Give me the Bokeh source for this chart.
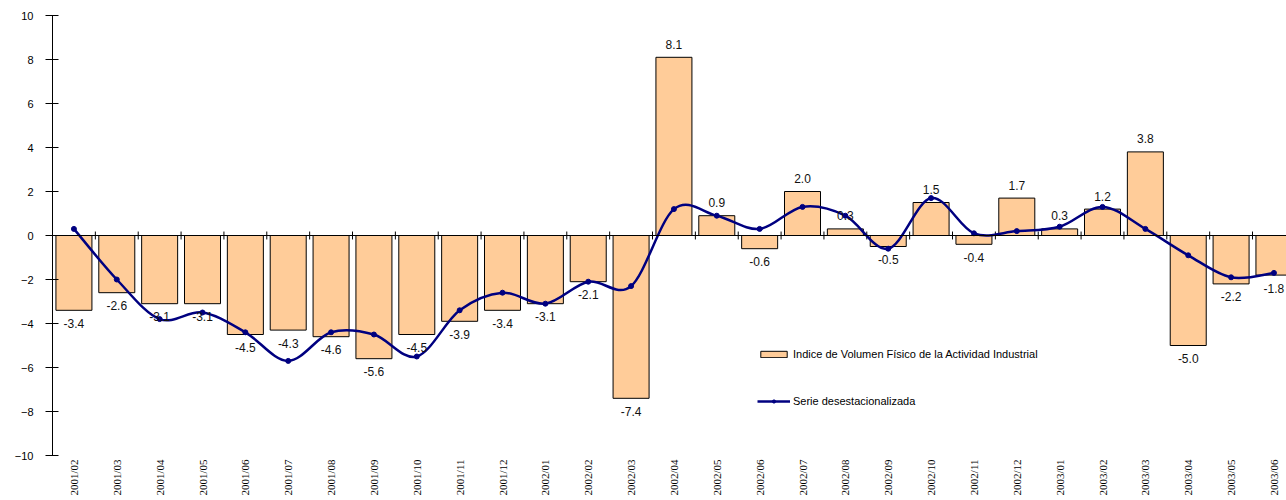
import math
from bokeh.plotting import figure
from bokeh.models import (ColumnDataSource, FixedTicker, Legend, LinearAxis,
                          LegendItem, LabelSet, Range1d, Span)
from bokeh.core.properties import value
from bokeh.embed import file_html
from bokeh.resources import INLINE

categories = ["2001/02", "2001/03", "2001/04", "2001/05", "2001/06", "2001/07",
              "2001/08", "2001/09", "2001/10", "2001/11", "2001/12", "2002/01",
              "2002/02", "2002/03", "2002/04", "2002/05", "2002/06", "2002/07",
              "2002/08", "2002/09", "2002/10", "2002/11", "2002/12", "2003/01",
              "2003/02", "2003/03", "2003/04", "2003/05", "2003/06"]

indice = [-3.4, -2.6, -3.1, -3.1, -4.5, -4.3, -4.6, -5.6, -4.5, -3.9, -3.4, -3.1,
          -2.1, -7.4, 8.1, 0.9, -0.6, 2.0, 0.3, -0.5, 1.5, -0.4, 1.7, 0.3,
          1.2, 3.8, -5.0, -2.2, -1.8]

desest = [0.3, -2.0, -3.8, -3.5, -4.4, -5.7, -4.4, -4.5, -5.5, -3.4, -2.6, -3.1,
          -2.1, -2.3, 1.2, 0.9, 0.3, 1.3, 0.9, -0.6, 1.7, 0.1, 0.2, 0.4,
          1.3, 0.3, -0.9, -1.9, -1.7]

y_ticks = list(range(-10, 11, 2))

label_bar = "Indice de Volumen Físico de la Actividad Industrial"
label_line = "Serie desestacionalizada"

FONT = "Liberation Sans"
NARROW = "Liberation Sans Narrow"

n = len(categories)
xs = list(range(n))
Y_MIN, Y_MAX = -10, 10

bar_src = ColumnDataSource(dict(
    x=xs, top=indice,
    lbl=[f"{v:.1f}" for v in indice],
    off=[13 if v >= 0 else -13 for v in indice],
))

# smooth (Catmull-Rom style) bezier segments through the series points
pts = list(zip(xs, desest))
bx0, by0, bx1, by1, cx0, cy0, cx1, cy1 = [], [], [], [], [], [], [], []
for i in range(n - 1):
    p0 = pts[i - 1] if i > 0 else pts[i]
    p1 = pts[i]
    p2 = pts[i + 1]
    p3 = pts[i + 2] if i + 2 < n else pts[i + 1]
    bx0.append(p1[0]); by0.append(p1[1])
    bx1.append(p2[0]); by1.append(p2[1])
    cx0.append(p1[0] + (p2[0] - p0[0]) / 6.0)
    cy0.append(p1[1] + (p2[1] - p0[1]) / 6.0)
    cx1.append(p2[0] - (p3[0] - p1[0]) / 6.0)
    cy1.append(p2[1] - (p3[1] - p1[1]) / 6.0)
curve_src = ColumnDataSource(dict(x0=bx0, y0=by0, x1=bx1, y1=by1,
                                  cx0=cx0, cy0=cy0, cx1=cx1, cy1=cy1))
pt_src = ColumnDataSource(dict(x=xs, y=desest))

# category boundary ticks on the zero line
bounds = [i + 0.5 for i in range(n - 1)]
tick_half = 0.18
tick_src = ColumnDataSource(dict(x=bounds, y0=[-tick_half] * len(bounds),
                                 y1=[tick_half] * len(bounds)))

p = figure(width=1286, height=498, output_backend="svg", toolbar_location=None,
           x_range=Range1d(-0.5, 28.293), y_range=Range1d(Y_MIN, Y_MAX),
           x_axis_type=None, min_border_left=52, min_border_right=0,
           min_border_top=15, min_border_bottom=43)
p.outline_line_color = None
p.ygrid.visible = False
p.background_fill_color = "white"

# left axis
ya = p.yaxis[0]
ya.ticker = FixedTicker(ticks=y_ticks)
ya.major_tick_in = 6
ya.major_tick_out = 7
ya.minor_tick_line_color = None
ya.axis_line_color = "black"
ya.major_tick_line_color = "black"
ya.major_label_standoff = 12
ya.major_label_text_font = FONT
ya.major_label_text_font_size = "11px"
ya.major_label_text_color = "black"

# category axis (labels only) at the bottom
cat_axis = LinearAxis(ticker=FixedTicker(ticks=xs),
                      major_label_overrides={i: c for i, c in enumerate(categories)},
                      major_label_orientation=math.pi / 2,
                      axis_line_color=None, major_tick_line_color=None,
                      minor_tick_line_color=None, major_tick_in=0, major_tick_out=0,
                      major_label_standoff=4,
                      major_label_text_font=NARROW,
                      major_label_text_font_size="11px",
                      major_label_text_color="black")
p.add_layout(cat_axis, "below")

bars = p.vbar(x="x", top="top", bottom=0, width=0.84, source=bar_src,
              fill_color="#FFCC99", line_color="black", line_width=1)

# zero line with boundary ticks
p.add_layout(Span(location=0, dimension="width", line_color="black", line_width=1))
p.segment(x0="x", y0="y0", x1="x", y1="y1", source=tick_src,
          line_color="black", line_width=1)

curve = p.bezier(x0="x0", y0="y0", x1="x1", y1="y1", cx0="cx0", cy0="cy0",
                 cx1="cx1", cy1="cy1", source=curve_src,
                 line_color="#000080", line_width=2.5)
dots = p.scatter(x="x", y="y", source=pt_src, size=5, marker="circle",
                 fill_color="#000080", line_color="#000080")

labels = LabelSet(x="x", y="top", text="lbl", y_offset="off", source=bar_src,
                  text_align="center", text_baseline="middle",
                  text_font=value(FONT), text_font_size="12px",
                  text_color="#111111")
p.add_layout(labels)

legend = Legend(items=[LegendItem(label=label_bar, renderers=[bars]),
                       LegendItem(label=label_line, renderers=[curve, dots])],
                location=(705, 47), orientation="vertical",
                border_line_color=None, background_fill_alpha=0,
                padding=0, margin=0, spacing=33,
                glyph_width=33, glyph_height=8, label_height=14,
                label_standoff=3, label_text_font=FONT,
                label_text_font_size="11px", label_text_color="black")
p.add_layout(legend)

open("out.html", "w").write(file_html(p, INLINE))
